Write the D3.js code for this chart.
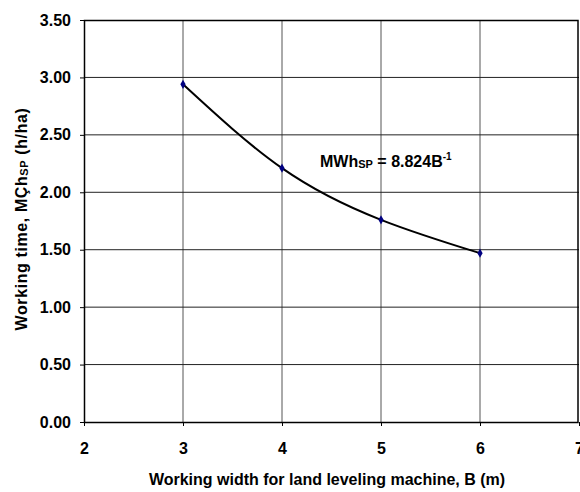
<!DOCTYPE html>
<html lang="en">
  <head>
    <meta charset="UTF-8" />
    <title>Working time vs working width</title>
    <script src="https://d3js.org/d3.v7.min.js"></script>
    <style>
      body { margin: 0; background: #fff; }
      text { font-family: "Liberation Sans", Arial, sans-serif; font-weight: bold; fill: #000; }
    </style>
  </head>
  <body>
    <div id="chart"></div>
    <script>
      // data
      const widths = [3, 4, 5, 6];
      const times = [2.94, 2.21, 1.76, 1.47];
      const xTicks = [2, 3, 4, 5, 6, 7];
      const yTicks = [0, 0.5, 1, 1.5, 2, 2.5, 3, 3.5];

      const w = 580;
      const h = 492;
      const m = { top: 20, right: 1, bottom: 70, left: 84 };

      const svg = d3.select("#chart").append("svg")
        .attr("width", w)
        .attr("height", h);

      const x = d3.scaleLinear().domain([2, 7]).range([m.left, w - m.right]);
      const y = d3.scaleLinear().domain([0, 3.5]).range([h - m.bottom, m.top]);

      // gridlines
      svg.append("g")
        .selectAll("line")
        .data(xTicks.slice(1, -1))
        .join("line")
        .attr("x1", d => x(d)).attr("x2", d => x(d))
        .attr("y1", y(3.5)).attr("y2", y(0))
        .attr("stroke", "#555")
        .attr("stroke-width", 1);

      svg.append("g")
        .selectAll("line")
        .data(yTicks.slice(1, -1))
        .join("line")
        .attr("x1", x(2)).attr("x2", x(7))
        .attr("y1", d => y(d)).attr("y2", d => y(d))
        .attr("stroke", "#222")
        .attr("stroke-width", 1);

      // axes
      const yAxis = svg.append("g")
        .attr("transform", `translate(${m.left},0)`)
        .call(d3.axisLeft(y).tickValues(yTicks).tickFormat(d3.format(".2f")).tickSize(4).tickPadding(9));
      const xAxis = svg.append("g")
        .attr("transform", `translate(0,${h - m.bottom})`)
        .call(d3.axisBottom(x).tickValues(xTicks).tickFormat(d3.format("d")).tickSize(4).tickPadding(17));

      [yAxis, xAxis].forEach(g => {
        g.select(".domain").remove();
        g.selectAll(".tick line").attr("stroke", "#000");
        g.selectAll(".tick text").style("font-size", "16px").style("font-family", "Liberation Sans, Arial, sans-serif").style("font-weight", "bold");
      });

      // plot border
      svg.append("rect")
        .attr("x", x(2) + 0.5).attr("y", y(3.5) + 0.5)
        .attr("width", x(7) - x(2) - 1.5).attr("height", y(0) - y(3.5))
        .attr("fill", "none")
        .attr("stroke", "#000")
        .attr("stroke-width", 1.5);

      // fitted curve through the points
      const line = d3.line()
        .x((d, i) => x(widths[i]))
        .y(d => y(d))
        .curve(d3.curveNatural);

      svg.append("path")
        .datum(times)
        .attr("d", line)
        .attr("fill", "none")
        .attr("stroke", "#000")
        .attr("stroke-width", 2);

      svg.append("g")
        .selectAll("path")
        .data(times)
        .join("path")
        .attr("transform", (d, i) => `translate(${x(widths[i])},${y(d)})`)
        .attr("d", d3.symbol(d3.symbolDiamond, 24))
        .attr("fill", "#000080");

      // equation label
      const eq = svg.append("text")
        .attr("x", 320)
        .attr("y", 167)
        .style("font-size", "16px");
      eq.append("tspan").text("MWh");
      eq.append("tspan").attr("dy", 1).style("font-size", "11px").text("SP");
      eq.append("tspan").attr("dy", -1).text(" = 8.824B");
      eq.append("tspan").attr("dy", -7).style("font-size", "10px").text("-1");

      // axis titles
      svg.append("text")
        .attr("x", 327)
        .attr("y", 485)
        .attr("text-anchor", "middle")
        .style("font-size", "16px")
        .text("Working width for land leveling machine, B (m)");

      const yt = svg.append("text")
        .attr("transform", "translate(27,219) rotate(-90)")
        .attr("text-anchor", "middle")
        .style("font-size", "16px")
        .style("letter-spacing", "0.6px");
      yt.append("tspan").text("Working time, MÇh");
      yt.append("tspan").attr("dy", 1).style("font-size", "11px").text("SP");
      yt.append("tspan").attr("dy", -1).text(" (h/ha)");
    </script>
  </body>
</html>
